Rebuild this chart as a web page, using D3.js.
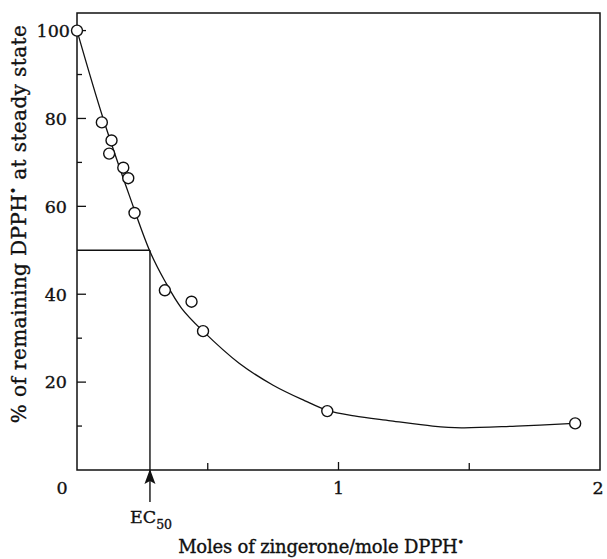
<!DOCTYPE html>
<html><head><meta charset="utf-8">
<script src="https://cdn.jsdelivr.net/npm/d3@7"></script>
<style>body{margin:0;background:#fff}svg{display:block}text{font-family:"DejaVu Serif",serif;fill:#111;stroke:#111;stroke-width:0.35px}</style>
</head><body>
<svg id="c" width="607" height="559"></svg>
<script>
// measured points (x: moles zingerone / mole DPPH•, y: % remaining DPPH•)
const pointX = [0, 0.095, 0.132, 0.123, 0.177, 0.196, 0.220, 0.336, 0.438, 0.482, 0.957, 1.905];
const pointY = [100, 79.1, 75.0, 72.0, 68.8, 66.4, 58.5, 40.9, 38.3, 31.6, 13.4, 10.6];
// fitted curve as drawn
const curveX = [0, 0.1, 0.2, 0.28, 0.336, 0.4, 0.482, 0.62, 0.75, 0.87, 0.96, 1.06, 1.2, 1.36, 1.47, 1.68, 1.9];
const curveY = [100, 80, 62.5, 49.6, 43, 36.8, 31.6, 24.3, 19.3, 15.8, 13.5, 12.3, 11.2, 10, 9.6, 10, 10.6];
const ec50 = 0.279;
const yMajor = [20, 40, 60, 80, 100];
const yMinor = [10, 30, 70, 90];
const xMajor = [1];
const xMinor = [0.5, 1.5];
const xLabels = ["0", "1", "2"];
const xLabelVals = [0, 1, 2];

const svg = d3.select("#c");
const L = 77, R = 600, T = 13, B = 470;
const x = d3.scaleLinear().domain([0, 2]).range([L, R]);
const y = d3.scaleLinear().domain([0, 104]).range([B, T]);

// frame
svg.append("rect").attr("x", L).attr("y", T).attr("width", R - L).attr("height", B - T)
  .attr("fill", "none").attr("stroke", "#111").attr("stroke-width", 1.5);

// y ticks (inward)
const gy = svg.append("g");
yMajor.forEach(v => gy.append("line").attr("x1", L).attr("x2", L + 9).attr("y1", y(v)).attr("y2", y(v)).attr("stroke", "#111").attr("stroke-width", 1.3));
yMinor.forEach(v => gy.append("line").attr("x1", L).attr("x2", L + 5).attr("y1", y(v)).attr("y2", y(v)).attr("stroke", "#111").attr("stroke-width", 1.3));
yMajor.forEach(v => gy.append("text").attr("x", v === 100 ? 70 : 67).attr("y", y(v)).attr("dy", "0.36em").attr("text-anchor", "end").attr("font-size", 17.5).text(v));

// x ticks (inward)
xMajor.forEach(v => svg.append("line").attr("x1", x(v)).attr("x2", x(v)).attr("y1", B).attr("y2", B - 8).attr("stroke", "#111").attr("stroke-width", 1.3));
xMinor.forEach(v => svg.append("line").attr("x1", x(v)).attr("x2", x(v)).attr("y1", B).attr("y2", B - 7).attr("stroke", "#111").attr("stroke-width", 1.3));
xLabelVals.forEach((v, i) => svg.append("text")
  .attr("x", v === 0 ? 62 : (v === 2 ? x(v) - 2 : x(v)))
  .attr("y", 494).attr("text-anchor", "middle").attr("font-size", 17.5).text(xLabels[i]));

// EC50 guide lines
svg.append("line").attr("x1", L).attr("x2", x(ec50)).attr("y1", y(50)).attr("y2", y(50)).attr("stroke", "#111").attr("stroke-width", 1.4);
svg.append("line").attr("x1", x(ec50)).attr("x2", x(ec50)).attr("y1", y(50)).attr("y2", 502).attr("stroke", "#111").attr("stroke-width", 1.4);
svg.append("path").attr("d", `M${x(ec50)},${B - 1} L${x(ec50) - 5.5},${B + 14} L${x(ec50)},${B + 11} L${x(ec50) + 5.5},${B + 14} Z`).attr("fill", "#111");
const ec = svg.append("text").attr("x", 130).attr("y", 523).attr("font-size", 17.5);
ec.append("tspan").text("EC");
ec.append("tspan").attr("font-size", 12.5).attr("dy", 6).text("50");

// curve
const curveData = curveX.map((v, i) => [v, curveY[i]]);
svg.append("path").datum(curveData)
  .attr("d", d3.line().x(d => x(d[0])).y(d => y(d[1])).curve(d3.curveCatmullRom.alpha(0.5)))
  .attr("fill", "none").attr("stroke", "#111").attr("stroke-width", 1.3);

// points
svg.selectAll("circle.p").data(pointX.map((v, i) => [v, pointY[i]])).enter().append("circle")
  .attr("cx", d => x(d[0])).attr("cy", d => y(d[1])).attr("r", 5.5)
  .attr("fill", "#fff").attr("stroke", "#111").attr("stroke-width", 1.4);

// axis titles
const xt = svg.append("text").attr("x", 321).attr("y", 553).attr("text-anchor", "middle").attr("font-size", 18).attr("letter-spacing", -0.2);
xt.append("tspan").text("Moles of zingerone/mole DPPH");
xt.append("tspan").attr("font-size", 11).attr("dy", -7).text("•");
const yt = svg.append("text").attr("transform", "translate(26,224) rotate(-90)").attr("text-anchor", "middle").attr("font-size", 20).attr("letter-spacing", 0.4);
yt.append("tspan").text("% of remaining DPPH");
yt.append("tspan").attr("font-size", 12).attr("dy", -8).text("•");
yt.append("tspan").attr("dy", 8).text(" at steady state");
</script>
</body></html>
